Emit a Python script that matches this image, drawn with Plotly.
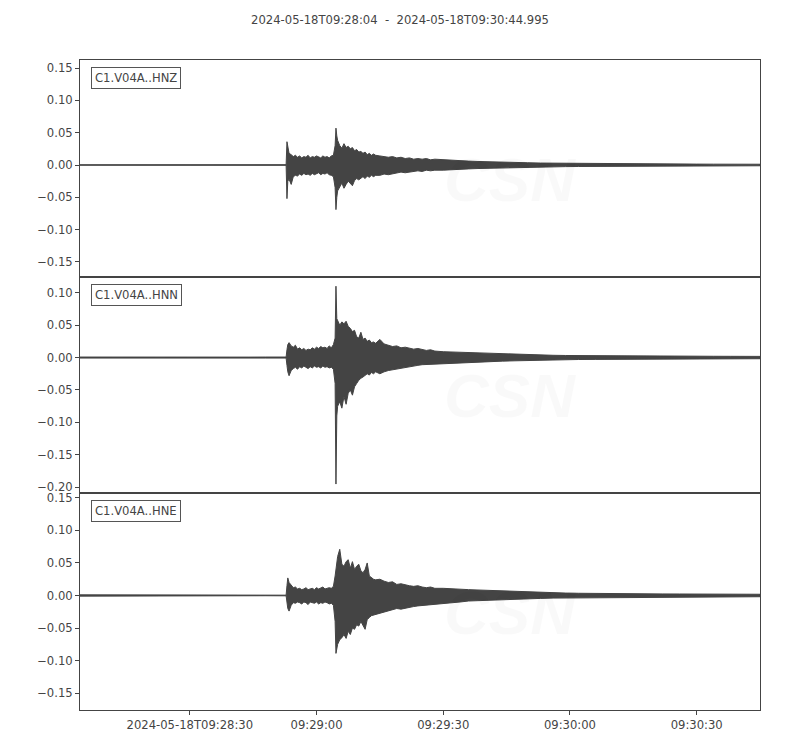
import pandas as pd
import plotly.graph_objects as go
from plotly.subplots import make_subplots

start = pd.Timestamp("2024-05-18T09:28:04")
end = pd.Timestamp("2024-05-18T09:30:44.995")

# seconds after start where the trace envelope was read
t_sec = [0, 4, 8, 12, 16, 20, 24, 28, 32, 36, 40, 44, 48.8,
         49.0, 49.2, 49.5, 50.0, 50.5, 51.0, 51.5, 52.0, 52.5, 53.0, 53.5, 54.0,
         54.5, 55.0, 55.5, 56.0, 56.5, 57.0, 57.5, 58.0, 58.5, 59.0, 59.5, 60.0,
         60.4, 60.6, 60.8, 61.0, 61.5, 62.0, 62.5, 63.0, 63.5, 64.0, 64.5, 65.0,
         65.5, 66.0, 66.5, 67.0, 67.5, 68.0, 68.5, 69.0, 69.5, 70.0,
         71, 72, 73, 74, 75, 76, 77, 78, 79, 80, 81, 82, 83, 84,
         86, 88, 90, 92, 94, 96, 98, 100, 103, 106, 109, 112, 115, 118,
         122, 126, 130, 134, 138, 142, 146, 150, 154, 158, 161]

hnz_up = [0.0004, 0.0005, 0.0004, 0.0004, 0.0005, 0.0004, 0.0004, 0.0005, 0.0004, 0.0004, 0.0005, 0.0004, 0.0005,
          0.036, 0.030, 0.018, 0.016, 0.013, 0.015, 0.012, 0.014, 0.011, 0.013, 0.012, 0.015,
          0.011, 0.013, 0.012, 0.014, 0.013, 0.011, 0.014, 0.012, 0.013, 0.011, 0.014, 0.015,
          0.030, 0.057, 0.045, 0.038, 0.030, 0.026, 0.033, 0.027, 0.029, 0.025, 0.027, 0.022,
          0.024, 0.020, 0.021, 0.018, 0.020, 0.016, 0.018, 0.015, 0.017, 0.015,
          0.014, 0.013, 0.012, 0.013, 0.011, 0.012, 0.010, 0.011, 0.009, 0.010, 0.009, 0.010, 0.008, 0.009,
          0.008, 0.0075, 0.007, 0.006, 0.0055, 0.005, 0.0045, 0.004, 0.0038, 0.0035, 0.003, 0.0028, 0.0025, 0.0023,
          0.002, 0.0019, 0.0018, 0.0017, 0.0016, 0.0015, 0.0014, 0.0013, 0.0013, 0.0012, 0.0012]
hnz_lo = [-0.0004, -0.0005, -0.0004, -0.0004, -0.0005, -0.0004, -0.0004, -0.0005, -0.0004, -0.0004, -0.0005, -0.0004, -0.0005,
          -0.052, -0.025, -0.022, -0.030, -0.018, -0.016, -0.017, -0.014, -0.016, -0.013, -0.015, -0.014,
          -0.016, -0.013, -0.015, -0.014, -0.012, -0.015, -0.013, -0.014, -0.012, -0.015, -0.016, -0.018,
          -0.035, -0.069, -0.050, -0.040, -0.034, -0.028, -0.036, -0.030, -0.025, -0.028, -0.032, -0.024,
          -0.021, -0.023, -0.020, -0.018, -0.021, -0.017, -0.019, -0.016, -0.018, -0.016,
          -0.016, -0.014, -0.015, -0.013, -0.012, -0.011, -0.012, -0.010, -0.010, -0.009, -0.010, -0.008, -0.009, -0.008,
          -0.008, -0.0075, -0.007, -0.006, -0.0055, -0.005, -0.0045, -0.004, -0.0038, -0.0035, -0.003, -0.0028, -0.0025, -0.0023,
          -0.002, -0.0019, -0.0018, -0.0017, -0.0016, -0.0015, -0.0014, -0.0013, -0.0013, -0.0012, -0.0012]

hnn_up = [0.0008, 0.0007, 0.0008, 0.0008, 0.0007, 0.0008, 0.0008, 0.0007, 0.0008, 0.0008, 0.0007, 0.0008, 0.0008,
          0.012, 0.020, 0.023, 0.018, 0.016, 0.019, 0.013, 0.015, 0.012, 0.014, 0.011, 0.013,
          0.012, 0.015, 0.013, 0.016, 0.014, 0.017, 0.015, 0.016, 0.014, 0.018, 0.015, 0.020,
          0.030, 0.110, 0.060, 0.057, 0.050, 0.055, 0.052, 0.056, 0.048, 0.045, 0.040, 0.042,
          0.032, 0.030, 0.039, 0.028, 0.030, 0.025, 0.027, 0.023, 0.024, 0.022,
          0.028, 0.021, 0.019, 0.017, 0.018, 0.015, 0.016, 0.014, 0.013, 0.014, 0.012, 0.011, 0.012, 0.010,
          0.009, 0.0085, 0.008, 0.0075, 0.007, 0.0065, 0.006, 0.0055, 0.005, 0.0045, 0.004, 0.0035, 0.0032, 0.003,
          0.0028, 0.0026, 0.0025, 0.0024, 0.0023, 0.0022, 0.0021, 0.002, 0.0019, 0.0018, 0.0018]
hnn_lo = [-0.0008, -0.0007, -0.0008, -0.0008, -0.0007, -0.0008, -0.0008, -0.0007, -0.0008, -0.0008, -0.0007, -0.0008, -0.0008,
          -0.012, -0.022, -0.028, -0.020, -0.017, -0.015, -0.018, -0.014, -0.016, -0.013, -0.015, -0.017,
          -0.014, -0.016, -0.013, -0.015, -0.014, -0.016, -0.013, -0.015, -0.014, -0.016, -0.015, -0.018,
          -0.040, -0.195, -0.090, -0.075, -0.068, -0.078, -0.060, -0.072, -0.055, -0.050, -0.058, -0.045,
          -0.040, -0.035, -0.032, -0.030, -0.028, -0.025, -0.027, -0.023, -0.025, -0.022,
          -0.025, -0.022, -0.020, -0.018, -0.017, -0.016, -0.015, -0.014, -0.013, -0.012, -0.011, -0.011, -0.010, -0.010,
          -0.009, -0.0085, -0.008, -0.0075, -0.007, -0.0065, -0.006, -0.0055, -0.005, -0.0045, -0.004, -0.0035, -0.0032, -0.003,
          -0.0028, -0.0026, -0.0025, -0.0024, -0.0023, -0.0022, -0.0021, -0.002, -0.0019, -0.0018, -0.0018]

hne_up = [0.001, 0.001, 0.0004, 0.001, 0.0004, 0.0004, 0.0004, 0.0004, 0.0004, 0.0004, 0.0004, 0.0004, 0.0005,
          0.015, 0.027, 0.020, 0.015, 0.012, 0.013, 0.010, 0.011, 0.009, 0.010, 0.012, 0.009,
          0.010, 0.011, 0.009, 0.012, 0.010, 0.011, 0.013, 0.010, 0.011, 0.012, 0.011, 0.014,
          0.030, 0.040, 0.050, 0.060, 0.071, 0.048, 0.045, 0.052, 0.055, 0.042, 0.052, 0.040,
          0.045, 0.048, 0.038, 0.035, 0.040, 0.050, 0.030, 0.027, 0.025, 0.024,
          0.025, 0.022, 0.020, 0.021, 0.017, 0.018, 0.016, 0.015, 0.014, 0.015, 0.013, 0.012, 0.013, 0.011,
          0.011, 0.010, 0.0095, 0.009, 0.0085, 0.008, 0.0072, 0.0065, 0.006, 0.005, 0.0045, 0.004, 0.0037, 0.0034,
          0.003, 0.0028, 0.0026, 0.0025, 0.0024, 0.0023, 0.0022, 0.0021, 0.002, 0.002, 0.0019]
hne_lo = [-0.001, -0.001, -0.0004, -0.001, -0.0004, -0.0004, -0.0004, -0.0004, -0.0004, -0.0004, -0.0004, -0.0004, -0.0005,
          -0.012, -0.020, -0.024, -0.015, -0.011, -0.012, -0.010, -0.011, -0.013, -0.010, -0.011, -0.014,
          -0.010, -0.011, -0.012, -0.010, -0.013, -0.011, -0.012, -0.010, -0.011, -0.013, -0.012, -0.015,
          -0.040, -0.089, -0.080, -0.075, -0.068, -0.065, -0.060, -0.066, -0.055, -0.060, -0.050, -0.052,
          -0.045, -0.047, -0.040, -0.045, -0.052, -0.037, -0.034, -0.031, -0.030, -0.029,
          -0.028, -0.025, -0.024, -0.022, -0.020, -0.021, -0.019, -0.018, -0.017, -0.016, -0.015, -0.014, -0.014, -0.013,
          -0.012, -0.011, -0.010, -0.0085, -0.008, -0.0075, -0.007, -0.0065, -0.006, -0.005, -0.0045, -0.004, -0.0037, -0.0034,
          -0.003, -0.0028, -0.0026, -0.0025, -0.0024, -0.0023, -0.0022, -0.0021, -0.002, -0.002, -0.0019]

channels = ["C1.V04A..HNZ", "C1.V04A..HNN", "C1.V04A..HNE"]
uppers = [hnz_up, hnn_up, hne_up]
lowers = [hnz_lo, hnn_lo, hne_lo]
y_ranges = [[-0.1727, 0.1624], [-0.2093, 0.1247], [-0.176, 0.157]]
y_ticks = [[-0.15, -0.10, -0.05, 0.0, 0.05, 0.10, 0.15],
           [-0.20, -0.15, -0.10, -0.05, 0.0, 0.05, 0.10],
           [-0.15, -0.10, -0.05, 0.0, 0.05, 0.10, 0.15]]
x_tick_times = ["2024-05-18 09:28:30", "2024-05-18 09:29:00", "2024-05-18 09:29:30",
                "2024-05-18 09:30:00", "2024-05-18 09:30:30"]
x_tick_text = ["2024-05-18T09:28:30", "09:29:00", "09:29:30", "09:30:00", "09:30:30"]

times = start + pd.to_timedelta(t_sec, unit="s")
x_poly = list(times) + list(times[::-1])

ink = "#444444"
mark = "rgba(0,0,0,0.025)"
font = dict(family="DejaVu Sans", size=11.6, color=ink)

fig = make_subplots(rows=3, cols=1, shared_xaxes=True, vertical_spacing=0)

for i in range(3):
    row = i + 1
    fig.add_trace(go.Scatter(
        x=x_poly, y=uppers[i] + lowers[i][::-1],
        mode="lines", fill="toself", fillcolor=ink,
        line=dict(color=ink, width=1), hoverinfo="skip", showlegend=False,
    ), row=row, col=1)
    fig.update_yaxes(range=y_ranges[i], tickvals=y_ticks[i], tickformat=".2f",
                     row=row, col=1)

    yd = "y domain" if i == 0 else f"y{row} domain"
    # faint CSN watermark
    fig.add_annotation(xref="paper", yref=yd, x=0.632, y=0.45, text="<b><i>CSN</i></b>",
                       showarrow=False, font=dict(family="Liberation Sans", size=62, color=mark))
    fig.add_annotation(xref="paper", yref=yd, x=0.662, y=0.25, xanchor="left",
                       text="<i>CENTRO SISMOLÓGICO NACIONAL</i>", showarrow=False,
                       font=dict(family="Liberation Sans", size=13, color=mark))
    fig.add_annotation(xref="paper", yref=yd, x=0.658, y=0.16, xanchor="left",
                       text="<i>UNIVERSIDAD DE CHILE</i>", showarrow=False,
                       font=dict(family="Liberation Sans", size=13, color=mark))
    # channel label
    fig.add_annotation(xref="paper", yref=yd, x=0.016, y=0.968, xanchor="left", yanchor="top",
                       text=channels[i], showarrow=False, font=font,
                       bordercolor="#555555", borderwidth=1, borderpad=3, bgcolor="white")

fig.update_yaxes(showline=True, mirror=True, linecolor=ink, linewidth=1,
                 ticks="outside", ticklen=4, tickcolor=ink, showgrid=False,
                 zeroline=False, tickfont=font)
fig.update_xaxes(type="date", range=[start, end], showline=True, mirror=True,
                 linecolor=ink, linewidth=1, showgrid=False, zeroline=False,
                 tickvals=x_tick_times, ticktext=x_tick_text, tickfont=font)
fig.update_xaxes(ticks="", showticklabels=False, row=1, col=1)
fig.update_xaxes(ticks="", showticklabels=False, row=2, col=1)
fig.update_xaxes(ticks="outside", ticklen=4, tickcolor=ink, row=3, col=1)

# the page body adds an 8px offset, so margins are shifted to compensate
fig.update_layout(
    width=800, height=750,
    margin=dict(l=72, r=48, t=52, b=48),
    paper_bgcolor="white", plot_bgcolor="white",
    font=font,
    title=dict(text="2024-05-18T09:28:04  -  2024-05-18T09:30:44.995",
               x=0.49, xref="container", y=0.984, yanchor="middle",
               font=dict(family="DejaVu Sans", size=11.6, color=ink)),
)

fig.write_html("out.html")
